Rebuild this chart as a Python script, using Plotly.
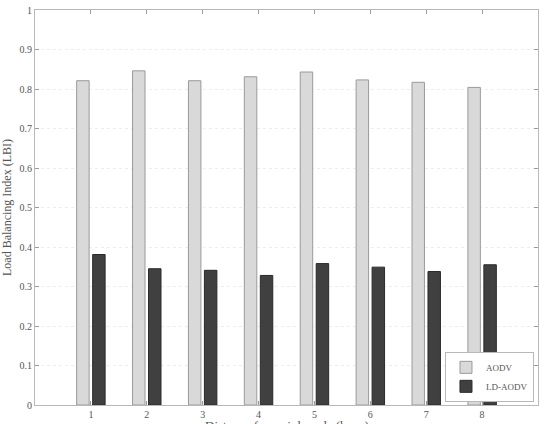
import plotly.graph_objects as go

categories = [1, 2, 3, 4, 5, 6, 7, 8]
aodv = [0.821, 0.846, 0.821, 0.831, 0.843, 0.823, 0.817, 0.804]
ld_aodv = [0.381, 0.345, 0.341, 0.328, 0.358, 0.349, 0.338, 0.355]
y_ticks = [0, 0.1, 0.2, 0.3, 0.4, 0.5, 0.6, 0.7, 0.8, 0.9, 1]
y_tick_labels = ["0", "0.1", "0.2", "0.3", "0.4", "0.5", "0.6", "0.7", "0.8", "0.9", "1"]
x_title = "Distance from sink node (hops)"

font_family = "Liberation Serif"

fig = go.Figure()
fig.add_trace(go.Bar(x=categories, y=aodv, name="AODV",
                     marker=dict(color="#d9d9d9", line=dict(color="#9a9a9a", width=1))))
fig.add_trace(go.Bar(x=categories, y=ld_aodv, name="LD-AODV",
                     marker=dict(color="#404040", line=dict(color="#2a2a2a", width=1))))

axis_common = dict(
    showline=True, linecolor="#b8b8b8", linewidth=1, mirror="ticks",
    ticks="inside", ticklen=4, tickcolor="#9a9a9a",
    tickfont=dict(family=font_family, size=10, color="#555555"),
    zeroline=False,
)

fig.update_layout(
    width=548, height=424,
    margin=dict(l=35, r=10, t=10, b=19),
    paper_bgcolor="white", plot_bgcolor="white",
    barmode="group", bargap=0.428, bargroupgap=0.22,
    font=dict(family=font_family, color="#555555"),
    xaxis=dict(range=[0, 9], tickvals=categories, ticktext=[str(c) for c in categories],
               showgrid=False, automargin=False, **axis_common),
    yaxis=dict(range=[0, 1], tickvals=y_ticks, ticktext=y_tick_labels,
               showgrid=True, gridcolor="#ededed", griddash="dot", automargin=False,
               title=dict(text="Load Balancing Index (LBI)", standoff=6,
                          font=dict(family=font_family, size=12, color="#555555")),
               **axis_common),
    legend=dict(x=0.992, y=0.008, xanchor="right", yanchor="bottom",
                bgcolor="white", bordercolor="#b8b8b8", borderwidth=1,
                font=dict(family=font_family, size=9, color="#555555"),
                tracegroupgap=0, itemwidth=30),
    showlegend=True,
    annotations=[dict(text=x_title, xref="paper", yref="paper", x=0.5, y=-0.053,
                      xanchor="center", yanchor="middle", showarrow=False,
                      font=dict(family=font_family, size=13, color="#555555"))],
)

fig.write_html("out.html")
